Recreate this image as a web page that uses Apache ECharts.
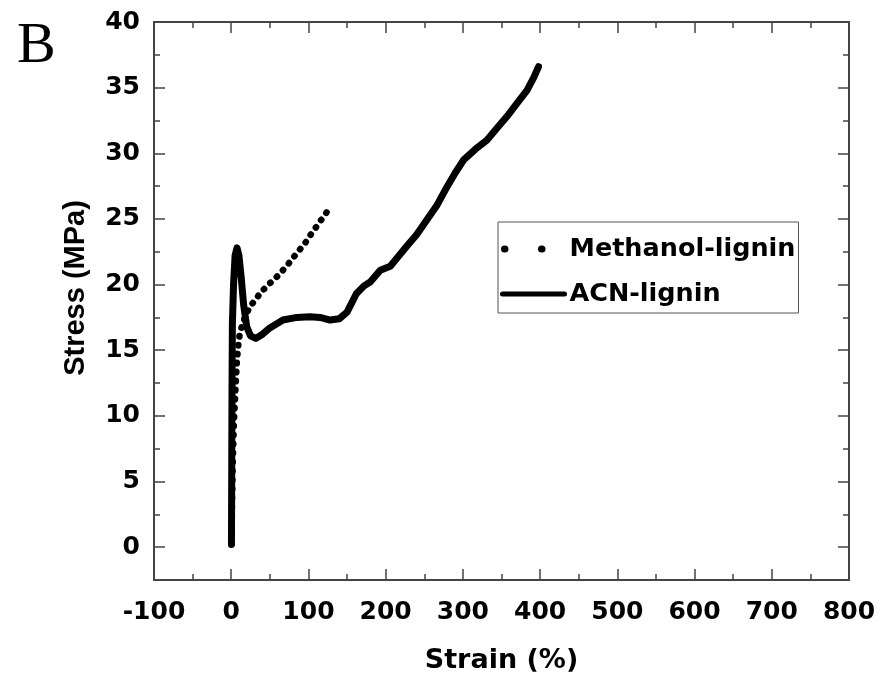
<!DOCTYPE html>
<html>
<head>
<meta charset="utf-8">
<script src="https://cdn.jsdelivr.net/npm/echarts@6/dist/echarts.min.js"></script>
<style>
  html, body { margin: 0; padding: 0; background: #fff; }
  #main { width: 894px; height: 684px; }
</style>
</head>
<body>
<div id="main"></div>
<script>
// strain (%) / stress (MPa)
var strainACN = [0.3, 0.6, 1.0, 1.5, 3, 5, 7.5, 10, 13, 16, 20, 25, 32, 40, 50, 67, 85, 102, 115, 128, 140, 150, 162, 172, 180, 193, 206, 227, 240, 253, 266, 279, 290, 301, 316, 331, 344, 357, 370, 383, 392, 398];
var stressACN = [0.2, 5, 12, 17, 20, 22.2, 22.8, 22.2, 20.5, 18.5, 16.8, 16.1, 15.9, 16.2, 16.7, 17.3, 17.5, 17.55, 17.5, 17.3, 17.4, 17.9, 19.3, 19.9, 20.2, 21.1, 21.4, 22.9, 23.8, 24.9, 26.0, 27.4, 28.5, 29.5, 30.3, 31.0, 31.9, 32.8, 33.8, 34.8, 35.8, 36.6];

var strainMeOH = [0.3, 1, 2, 3.5, 5.5, 7.5, 9.5, 11.5, 17, 24, 32, 39, 50, 61, 73, 85, 95, 104, 115, 123.5];
var stressMeOH = [0.3, 3, 6.5, 9.5, 12, 14.3, 15.6, 16.4, 17.4, 18.3, 18.9, 19.45, 20.1, 20.7, 21.5, 22.4, 23.1, 23.9, 24.8, 25.5];

var yTicks = [0, 5, 10, 15, 20, 25, 30, 35, 40];
var yMinorTicks = [2.5, 7.5, 12.5, 17.5, 22.5, 27.5, 32.5, 37.5];

function zip(xs, ys) {
  return xs.map(function (x, i) { return [x, ys[i]]; });
}

var frame = { show: true, onZero: false, lineStyle: { color: '#444', width: 2 } };
var noLine = { show: false, onZero: false };
var tickStyle = { color: '#444', width: 1.5 };
var tickFont = { fontFamily: 'DejaVu Sans', fontWeight: 'bold', fontSize: 25, color: '#000' };

// one y axis per job: frame + ticks, minor ticks, and the labels
function yAxisPart(position, extra) {
  return Object.assign({
    type: 'value', position: position, min: -2.5, max: 40, interval: 2.5,
    axisLine: noLine,
    axisTick: { show: false },
    splitLine: { show: false },
    axisLabel: { show: false }
  }, extra);
}

var chart = echarts.init(document.getElementById('main'));
chart.setOption({
  animation: false,
  backgroundColor: '#fff',
  grid: { left: 154, top: 22, right: 45, bottom: 104, outerBoundsMode: 'none' },
  graphic: [{
    type: 'text', left: 17, top: 18,
    style: { text: 'B', fontFamily: 'Liberation Serif', fontSize: 58, fill: '#000' }
  }],
  legend: {
    orient: 'vertical',
    left: 498, top: 222,
    padding: [14, 3, 6, 1],
    itemWidth: 62, itemHeight: 14, itemGap: 19,
    borderColor: '#555', borderWidth: 1,
    textStyle: { fontFamily: 'DejaVu Sans', fontWeight: 'bold', fontSize: 25.5, color: '#000' },
    data: [
      { name: 'Methanol-lignin', itemStyle: { opacity: 0 },
        lineStyle: { width: 7, type: [0.5, 36.5], dashOffset: 35, cap: 'round' } },
      { name: 'ACN-lignin', itemStyle: { opacity: 0 },
        lineStyle: { width: 5, type: 'solid' } }
    ]
  },
  xAxis: [{
    type: 'value', position: 'bottom', min: -100, max: 800, interval: 100,
    axisLine: frame,
    axisTick: { inside: true, length: 11, lineStyle: tickStyle },
    minorTick: { show: true, splitNumber: 2, length: 6, lineStyle: tickStyle },
    splitLine: { show: false },
    axisLabel: Object.assign({ margin: 20 }, tickFont),
    name: 'Strain (%)', nameLocation: 'middle', nameGap: 67,
    nameTextStyle: { fontFamily: 'DejaVu Sans', fontWeight: 'bold', fontSize: 27, color: '#000' }
  }, {
    type: 'value', position: 'top', min: -100, max: 800, interval: 100,
    axisLine: frame,
    axisTick: { inside: true, length: 11, lineStyle: tickStyle },
    minorTick: { show: true, splitNumber: 2, length: 6, lineStyle: tickStyle },
    splitLine: { show: false },
    axisLabel: { show: false }
  }],
  yAxis: [
    yAxisPart('left', {
      axisLine: frame,
      axisTick: { inside: true, length: 11, customValues: yTicks, lineStyle: tickStyle }
    }),
    yAxisPart('right', {
      axisLine: frame,
      axisTick: { inside: true, length: 11, customValues: yTicks, lineStyle: tickStyle }
    }),
    yAxisPart('left', {
      axisTick: { inside: true, length: 6, customValues: yMinorTicks, lineStyle: tickStyle }
    }),
    yAxisPart('right', {
      axisTick: { inside: true, length: 6, customValues: yMinorTicks, lineStyle: tickStyle }
    }),
    yAxisPart('left', {
      offset: 12,
      axisLabel: Object.assign({
        show: true,
        margin: 2,
        formatter: function (v) { return yTicks.indexOf(v) >= 0 ? String(v) : ''; }
      }, tickFont),
      name: 'Stress (MPa)', nameLocation: 'middle', nameGap: 52,
      nameTextStyle: { fontFamily: 'Liberation Sans', fontWeight: 'bold', fontSize: 29, color: '#000', padding: [0, 0, 0, 26] }
    })
  ],
  series: [{
    name: 'Methanol-lignin',
    type: 'line',
    symbol: 'none',
    data: zip(strainMeOH, stressMeOH),
    color: '#000',
    lineStyle: { color: '#000', width: 6.5, type: [0.5, 8.5], cap: 'round', join: 'round' }
  }, {
    name: 'ACN-lignin',
    type: 'line',
    symbol: 'none',
    data: zip(strainACN, stressACN),
    color: '#000',
    lineStyle: { color: '#000', width: 7, cap: 'round', join: 'round' }
  }]
});
</script>
</body>
</html>
